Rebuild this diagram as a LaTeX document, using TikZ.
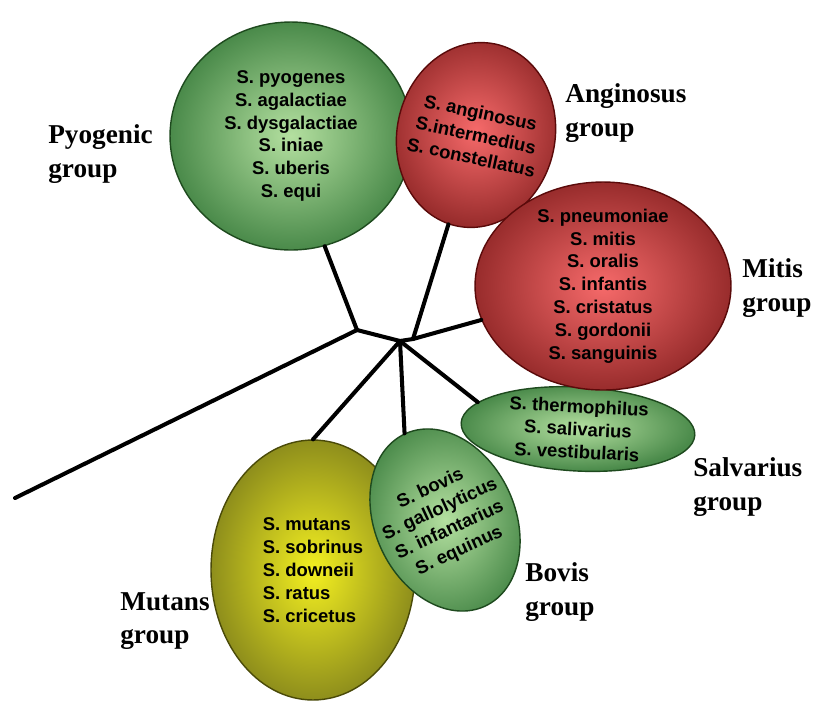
\documentclass[tikz,border=0pt]{standalone}
\usepackage{fontspec}
\setmainfont{Liberation Serif}
\setsansfont{Liberation Sans}
\usetikzlibrary{shapes.geometric,positioning}

\definecolor{grnin}{HTML}{B4E0A0}
\definecolor{grnout}{HTML}{4A8A4A}
\definecolor{grnline}{HTML}{1E4A1E}
\definecolor{redin}{HTML}{F66A6A}
\definecolor{redout}{HTML}{982C2C}
\definecolor{redline}{HTML}{5A0A0A}
\definecolor{ylwin}{HTML}{F4F020}
\definecolor{ylwout}{HTML}{8E8E1C}
\definecolor{ylwline}{HTML}{4A4A08}

\begin{document}
\begin{tikzpicture}[x=0.02cm,y=-0.02cm,
  group/.style={ellipse,line width=0.8pt,inner xsep=-12pt,inner ysep=-6pt,
    align=center,shading=radial,
    font=\sffamily\bfseries\fontsize{10.5}{13}\selectfont},
  greengroup/.style={group,draw=grnline,inner color=grnin,outer color=grnout},
  redgroup/.style={group,draw=redline,inner color=redin,outer color=redout},
  yellowgroup/.style={group,draw=ylwline,inner color=ylwin,outer color=ylwout},
  grouplabel/.style={anchor=west,align=left,inner sep=0pt,
    font=\bfseries\fontsize{15.5}{19}\selectfont},
  branch/.style={line width=2.3pt,line cap=round}]

  \useasboundingbox (0,0) rectangle (815,701);

  % Species groups
  \node[greengroup,minimum width=4.84cm,minimum height=4.56cm] (pyogenic) at (291,136)
    {S. pyogenes\\S. agalactiae\\S. dysgalactiae\\S. iniae\\S. uberis\\S. equi};
  \node[redgroup,minimum width=3.16cm,minimum height=3.72cm,rotate=-12] (anginosus) at (476,135)
    {S. anginosus\\S.intermedius\\S. constellatus};
  \node[yellowgroup,align=left,minimum width=4.08cm,minimum height=5.2cm] (mutans) at (313,570)
    {S. mutans\\S. sobrinus\\S. downeii\\S. ratus\\S. cricetus};
  \node[greengroup,minimum width=2.8cm,minimum height=3.8cm,rotate=25] (bovis) at (445,520)
    {S. bovis\\S. gallolyticus\\S. infantarius\\S. equinus};
  \node[greengroup,minimum width=4.68cm,minimum height=1.68cm,rotate=-3] (salivarius) at (578,429)
    {S. thermophilus\\S. salivarius\\S. vestibularis};
  \node[redgroup,minimum width=5.12cm,minimum height=4.16cm] (mitis) at (603,286)
    {S. pneumoniae\\S. mitis\\S. oralis\\S. infantis\\S. cristatus\\S. gordonii\\S. sanguinis};

  % Tree
  \coordinate (root) at (15,498);
  \coordinate (hubA) at (357,330);
  \coordinate (hubB) at (400,341);
  \coordinate (hubC) at (413,339);
  \draw[branch] (root) -- (hubA) -- (hubB) -- (hubC);
  \draw[branch] (hubA) -- (pyogenic.287);
  \draw[branch] (hubC) -- (anginosus);
  \draw[branch] (hubC) -- (mitis);
  \draw[branch] (hubB) -- (mutans.north);
  \draw[branch] (hubB) -- (bovis.north);
  \draw[branch] (hubB) -- (salivarius.168);

  % Group labels
  \foreach \n/\x/\y/\t in {pyolab/48/154/Pyogenic, anglab/565/113/Anginosus,
      mitlab/742/288/Mitis, sallab/693/487/Salvarius, bovlab/525/592/Bovis,
      mutlab/120/621/Mutans}
    \node[grouplabel] (\n) at (\x,\y) {\t\\group};
\end{tikzpicture}
\end{document}
